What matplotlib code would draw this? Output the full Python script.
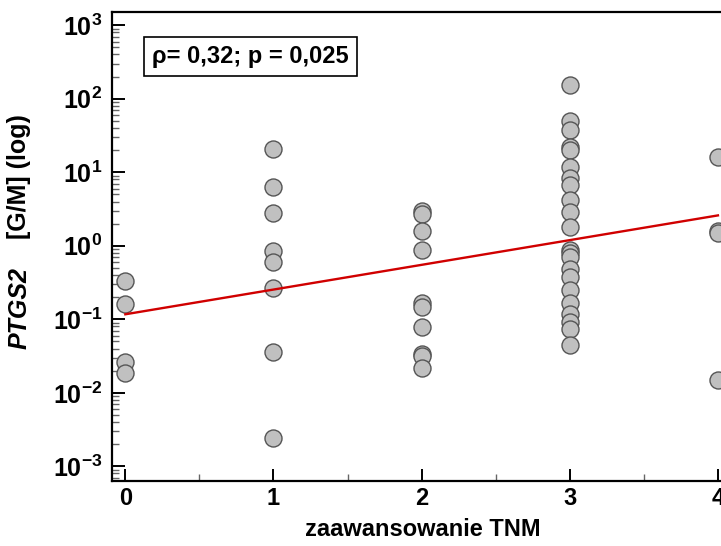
import numpy as np
import matplotlib
matplotlib.use("Agg")
import matplotlib.pyplot as plt
from matplotlib.ticker import LogLocator, FixedLocator, NullFormatter

plt.rcParams['font.family'] = ['Liberation Sans', 'DejaVu Sans']
plt.rcParams['mathtext.fontset'] = 'custom'
plt.rcParams['mathtext.rm'] = 'Liberation Sans:bold'
plt.rcParams['mathtext.bf'] = 'Liberation Sans:bold'

# PTGS2 [G/M] by TNM stage
stage0 = [0.336, 0.16, 0.026, 0.0188]
stage1 = [20.5, 6.26, 2.76, 0.84, 0.61, 0.267, 0.0356, 0.0024]
stage2 = [2.94, 2.74, 1.57, 0.88, 0.168, 0.148, 0.079, 0.0335, 0.0314, 0.022]
stage3 = [153, 49.9, 37.3, 22.3, 19.9, 11.7, 8.4, 6.8, 4.25, 2.89, 1.78,
          0.88, 0.79, 0.70, 0.48, 0.381, 0.25, 0.168, 0.118, 0.092, 0.073, 0.045]
stage4 = [16.1, 1.57, 1.49, 0.0148]
stages = [stage0, stage1, stage2, stage3, stage4]

trend_x = [0, 4]
trend_y = [0.117, 2.59]

x_ticks = [0, 1, 2, 3, 4]
y_decades = [-3, -2, -1, 0, 1, 2, 3]

fig = plt.figure(figsize=(7.21, 5.46), dpi=100)
ax = fig.add_axes([0.1553, 0.119, 0.861, 0.859])

xs = np.concatenate([np.full(len(s), i) for i, s in enumerate(stages)])
ys = np.concatenate([np.array(s, dtype=float) for s in stages])
ax.scatter(xs, ys, s=150, facecolor='#c0c0c0', edgecolor='#555555',
           linewidth=1.0, zorder=3, clip_on=True)
ax.plot(trend_x, trend_y, color='#d00000', linewidth=1.7, zorder=4)

ax.set_yscale('log')
ax.set_xlim(-0.09, 4.1)
ax.set_ylim(10 ** -3.2, 10 ** 3.18)

ax.set_yticks([10.0 ** d for d in y_decades])
ax.set_yticklabels([r'$\mathbf{10^{%d}}$' % d for d in y_decades])
ax.yaxis.set_minor_locator(LogLocator(base=10, subs=np.arange(2, 10)))
ax.yaxis.set_minor_formatter(NullFormatter())
ax.set_xticks(x_ticks)
ax.set_xticklabels([str(t) for t in x_ticks], fontweight='bold')
ax.xaxis.set_minor_locator(FixedLocator([0.5, 1.5, 2.5, 3.5]))

ax.tick_params(axis='both', which='major', direction='in', length=9,
               width=1.4)
ax.tick_params(axis='y', which='major', pad=7, labelsize=18)
ax.tick_params(axis='x', which='major', pad=4, labelsize=17)
ax.tick_params(axis='both', which='minor', direction='in', length=5,
               width=1.0, color='#666666')
ax.tick_params(axis='y', which='both', right=False)
ax.tick_params(axis='x', which='both', top=False)

for side in ['left', 'bottom', 'top']:
    ax.spines[side].set_linewidth(1.6)
ax.spines['right'].set_visible(False)

ax.set_xlabel('zaawansowanie TNM', fontsize=17, fontweight='bold', labelpad=6)

fig.text(0.027, 0.436, 'PTGS2', rotation=90, ha='center', va='center',
         fontsize=18, fontweight='bold', fontstyle='italic')
fig.text(0.027, 0.676, '[G/M] (log)', rotation=90, ha='center', va='center',
         fontsize=18, fontweight='bold')

ax.text(0.065, 0.905, 'ρ= 0,32; p = 0,025', transform=ax.transAxes,
        fontsize=17, fontweight='bold', ha='left', va='center',
        bbox=dict(boxstyle='square,pad=0.35', facecolor='white',
                  edgecolor='black', linewidth=1.2))

fig.savefig('out.png', dpi=100)
